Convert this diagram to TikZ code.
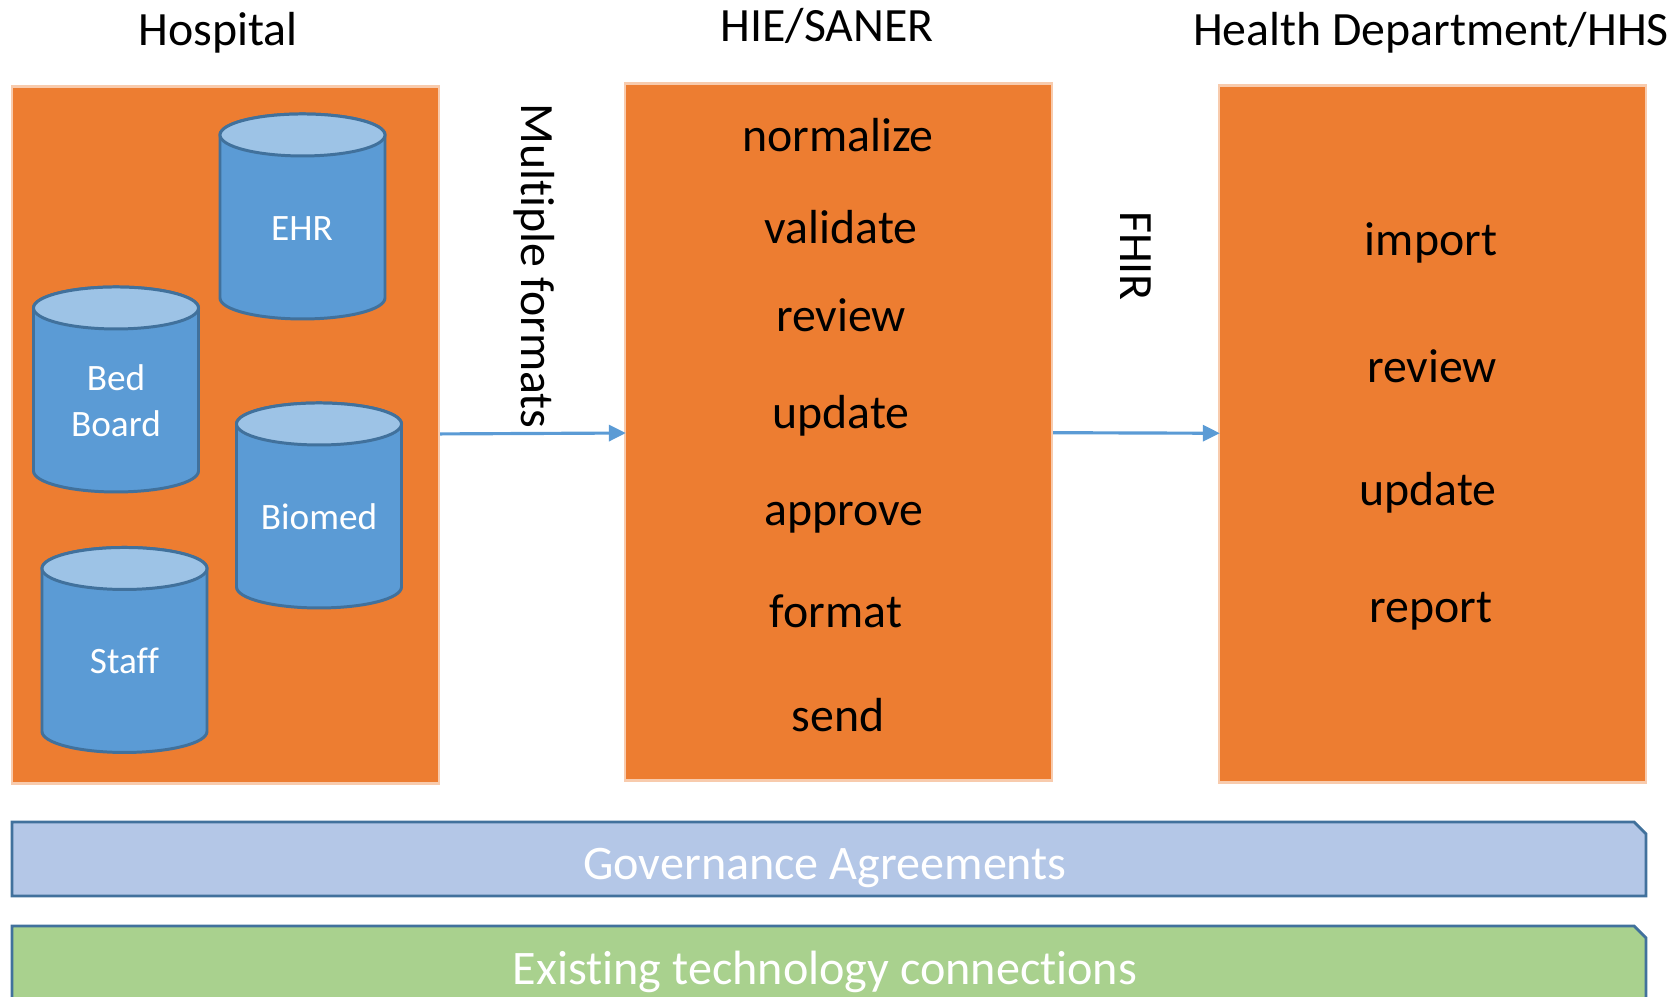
\documentclass[tikz,border=0pt]{standalone}
\usepackage{fontspec}
\setmainfont{Carlito}[RawFeature={-liga}]
\usepackage{tikz}
\usetikzlibrary{arrows.meta}
\definecolor{boxorange}{HTML}{ED7D31}
\definecolor{boxedge}{HTML}{F8CBAD}
\definecolor{dbblue}{HTML}{5B9BD5}
\definecolor{dbtop}{HTML}{9DC3E6}
\definecolor{dbedge}{HTML}{41719C}
\definecolor{barblue}{HTML}{B4C7E7}
\definecolor{bargreen}{HTML}{A9D18E}
\tikzset{%
  orbox/.style={draw=boxedge,fill=boxorange,line width=.7pt,minimum width=4.27cm,minimum height=6.97cm,inner sep=0},
  dbase/.pic={
    \draw[draw=dbedge,line width=.85pt,fill=dbblue] (-.825,.815) -- (-.825,-.815) arc[x radius=.825,y radius=.21,start angle=180,end angle=360] -- (.825,.815) arc[x radius=.825,y radius=.21,start angle=0,end angle=180] -- cycle;
    \draw[draw=dbedge,line width=.85pt,fill=dbtop] (0,.815) circle[x radius=.825,y radius=.21];
  },
  dbtxt/.style={text=white,align=center,font=\fontsize{10.6}{13}\selectfont},
  wbar/.style={draw=dbedge,line width=.8pt},
  btxt/.style={text=black,font=\fontsize{13.6}{16}\selectfont},
  wtxt/.style={text=white,font=\fontsize{13.7}{16}\selectfont},
  flow/.style={draw=dbblue,line width=.9pt,shorten >=-.6pt,-{Triangle[length=.17cm,width=.16cm]}}
}
\begin{document}
\begin{tikzpicture}
    \useasboundingbox (0,0) rectangle (16.79,9.97);
    \clip (0,0) rectangle (16.79,9.97);
    \path
      (2.255,5.62) node[orbox] (hosp) {}
      (8.385,5.65) node[orbox] (hie) {}
      (14.325,5.63) node[orbox] (dept) {};
    \path
      (3.025,7.805) pic {dbase}
      (1.16,6.075) pic {dbase}
      (3.19,4.915) pic {dbase}
      (1.245,3.47) pic {dbase};
    \path
      (3.02,7.68) node[dbtxt] (tehr) {EHR}
      (1.16,5.96) node[dbtxt] (tbed) {Bed\\Board}
      (3.19,4.80) node[dbtxt] (tbiomed) {Biomed}
      (1.245,3.36) node[dbtxt] (tstaff) {Staff};
    \draw[wbar,fill=barblue] (.12,1.01) -- (16.46,1.01) -- (16.46,1.63) -- (16.34,1.75) -- (.12,1.75) -- cycle;
    \draw[wbar,fill=bargreen] (.12,-.2) -- (16.46,-.2) -- (16.46,.59) -- (16.34,.71) -- (.12,.71) -- cycle;
    \draw[flow] (hosp) -- (hie);
    \draw[flow] (hie) -- (dept);
    \path
      (2.18,9.64) node[btxt] (thosp) {Hospital}
      (8.27,9.71) node[btxt] (thie) {HIE/SANER}
      (14.31,9.64) node[btxt] (tdept) {Health Department/HHS}
      (5.34,7.31) node[btxt,rotate=-90] (tmulti) {Multiple formats}
      (11.36,7.41) node[btxt,rotate=-90] (tfhir) {FHIR};
    \path
      (8.38,8.62) node[btxt] (n1) {normalize}
      (8.41,7.70) node[btxt] (n2) {validate}
      (8.41,6.82) node[btxt] (n3) {review}
      (8.41,5.81) node[btxt] (n4) {update}
      (8.44,4.79) node[btxt] (n5) {approve}
      (8.36,3.86) node[btxt] (n6) {format}
      (8.38,2.82) node[btxt] (n7) {send};
    \path
      (14.31,7.54) node[btxt] (m1) {import}
      (14.32,6.31) node[btxt] (m2) {review}
      (14.28,5.04) node[btxt] (m3) {update}
      (14.31,3.86) node[btxt] (m4) {report};
    \path
      (8.25,1.29) node[wtxt] (tgov) {Governance Agreements}
      (8.25,.25) node[wtxt] (ttech) {Existing technology connections};
  \end{tikzpicture}
\end{document}
